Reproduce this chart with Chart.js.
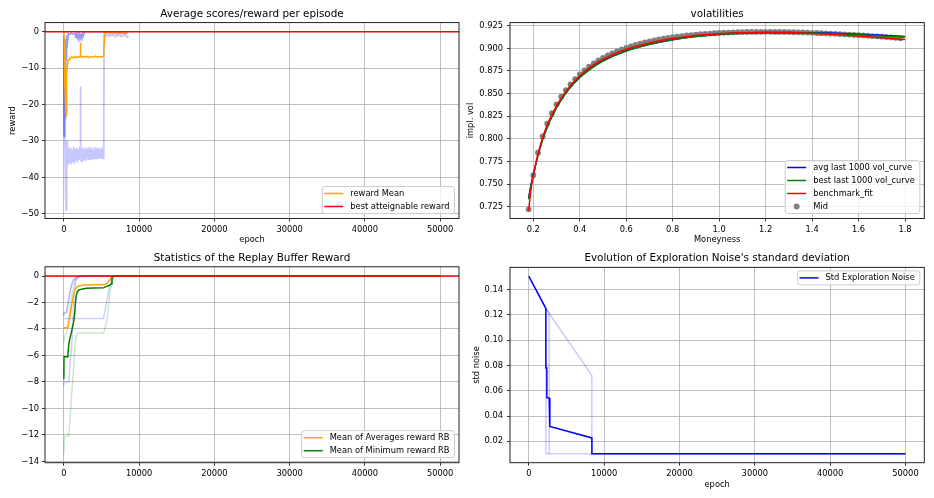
<!DOCTYPE html>
<html>
<head>
<meta charset="utf-8">
<script src="https://cdn.jsdelivr.net/npm/chart.js@4.4.0/dist/chart.umd.min.js"></script>
<style>
body { margin: 0; background: #fff; width: 934px; height: 498px; overflow: hidden; position: relative; }
.panel { position: absolute; }
</style>
</head>
<body>
<div class="panel" style="left:0;top:0;width:467px;height:249px"><canvas id="rewardChart"></canvas></div>
<div class="panel" style="left:464px;top:0;width:470px;height:249px"><canvas id="volChart"></canvas></div>
<div class="panel" style="left:0;top:249px;width:467px;height:249px"><canvas id="bufferChart"></canvas></div>
<div class="panel" style="left:464px;top:249px;width:470px;height:249px"><canvas id="noiseChart"></canvas></div>
<script>
// ---- tick labels ----
const epochTicks = [0, 10000, 20000, 30000, 40000, 50000];
const rewardTicks = [0, -10, -20, -30, -40, -50];
const moneyTicks = [0.2, 0.4, 0.6, 0.8, 1.0, 1.2, 1.4, 1.6, 1.8];
const volTicks = [0.725, 0.75, 0.775, 0.8, 0.825, 0.85, 0.875, 0.9, 0.925];
const bufferTicks = [0, -2, -4, -6, -8, -10, -12, -14];
const noiseTicks = [0.02, 0.04, 0.06, 0.08, 0.1, 0.12, 0.14];

// ---- average scores / reward per episode ----
const tlMeanX = [0, 50, 100, 150, 200, 250, 300, 350, 400, 500, 600, 700, 800, 1000, 1200, 1400, 1600, 1800, 2000, 2150, 2200, 2250, 2400, 2600, 2800, 3000, 3300, 3600, 3900, 4200, 4500, 4800, 5100, 5300, 5350, 5400, 5600, 6000, 6500, 7000, 7500, 8000, 8500];
const tlMeanY = [0, -3, -9, -14, -18, -21, -23, -16, -11, -9, -8, -7.6, -7.3, -7.0, -7.2, -6.8, -7.1, -6.9, -7.0, -6.7, -3, -6.6, -7.1, -6.8, -7.0, -6.7, -7.1, -6.8, -7.0, -6.7, -7.0, -6.8, -6.9, -6.8, -3, -0.2, -0.1, -0.3, -0.2, -0.4, -0.3, -0.5, -0.4];
const tlLowX = [0, 60, 120, 180, 240, 300, 340, 380, 420,
  500, 600, 700, 800, 900, 1000, 1100, 1200, 1300, 1400, 1500, 1600, 1700, 1800, 1900, 2000, 2100,
  2150, 2200, 2250,
  2300, 2400, 2500, 2600, 2700, 2800, 2900, 3000, 3100, 3200, 3300, 3400, 3500, 3600, 3700, 3800, 3900, 4000, 4100, 4200, 4300, 4400, 4500, 4600, 4700, 4800, 4900, 5000, 5100, 5200, 5300,
  5350, 5450,
  5600, 5800, 6000, 6200, 6400, 6600, 6800, 7000, 7200, 7400, 7600, 7800, 8000, 8200, 8400, 8500];
const tlLowY = [-1, -18, -29, -35, -44, -49, -38, -30, -33,
  -31.5, -36.5, -32, -36, -31.8, -36.4, -32.5, -35.8, -31.6, -36.2, -32.2, -35.5, -31.9, -35.9, -32.4, -35.2, -31.7,
  -33, -15, -33,
  -35.6, -32, -35.4, -31.8, -35.1, -32.3, -35.5, -31.9, -34.8, -32.1, -35.3, -31.6, -34.9, -32.2, -35.2, -31.8, -34.7, -32.4, -35.0, -31.7, -34.8, -32.0, -35.1, -31.9, -34.6, -32.3, -34.9, -31.8, -34.7, -32.1, -35.0,
  -1, -0.6,
  -1.2, -0.5, -1.3, -0.7, -1.1, -0.6, -1.4, -0.8, -1.2, -0.5, -1.3, -0.9, -1.1, -0.7, -1.5, -1.2];
const tlHighX = [0, 30, 60, 90, 120, 150, 180, 210, 240, 270, 300, 350, 400, 500, 600, 800, 1000, 1200, 1400, 1500, 1600, 1700, 1800, 1900, 2000, 2100, 2200, 2300, 2400, 2500, 2600, 2700, 2800, 8500];
const tlHighY = [-1, -28, -3, -29, -6, -27, -2, -24, -4, -18, -2, -8, -1, -3, -0.5, -0.8, -0.4, -0.7, -0.5, -0.5, -1.8, -0.6, -1.6, -0.7, -1.5, -0.6, -1.7, -0.8, -1.4, -0.6, -1.2, -0.3, 0, 0];
const bestX = [-2500, 52500];
const bestY = [0, 0];

// ---- volatilities ----
const fitX = [0.18, 0.19, 0.20, 0.22, 0.25, 0.30, 0.35, 0.40, 0.45, 0.50, 0.60, 0.70, 0.80, 0.90, 1.00, 1.10, 1.20, 1.30, 1.40, 1.50, 1.60, 1.70, 1.80];
const avgVol = [0.7345, 0.7490, 0.7605, 0.7818, 0.8068, 0.8348, 0.8542, 0.8680, 0.8782, 0.8862, 0.8972, 0.9044, 0.9096, 0.9133, 0.9157, 0.9170, 0.9175, 0.9176, 0.9173, 0.9166, 0.9156, 0.9144, 0.9132];
const bestVol = [0.7330, 0.7480, 0.7600, 0.7815, 0.8065, 0.8345, 0.8540, 0.8678, 0.8780, 0.8860, 0.8970, 0.9042, 0.9094, 0.9131, 0.9155, 0.9168, 0.9173, 0.9173, 0.9169, 0.9161, 0.9150, 0.9138, 0.9126];
const benchVol = [0.7210, 0.7440, 0.7590, 0.7830, 0.8090, 0.8365, 0.8558, 0.8697, 0.8800, 0.8880, 0.8990, 0.9060, 0.9108, 0.9142, 0.9162, 0.9172, 0.9175, 0.9172, 0.9165, 0.9153, 0.9137, 0.9118, 0.9098];
const midX = [0.18, 0.20, 0.22, 0.24, 0.26, 0.28, 0.30, 0.32, 0.34, 0.36, 0.38, 0.40, 0.42, 0.44, 0.46, 0.48, 0.50, 0.52, 0.54, 0.56, 0.58,
  0.60, 0.62, 0.64, 0.66, 0.68, 0.70, 0.72, 0.74, 0.76, 0.78, 0.80, 0.82, 0.84, 0.86, 0.88, 0.90, 0.92, 0.94, 0.96, 0.98,
  1.00, 1.02, 1.04, 1.06, 1.08, 1.10, 1.12, 1.14, 1.16, 1.18, 1.20, 1.22, 1.24, 1.26, 1.28, 1.30, 1.32, 1.34, 1.36, 1.38,
  1.40, 1.42, 1.44, 1.46, 1.48, 1.50, 1.52, 1.54, 1.56, 1.58, 1.60, 1.62, 1.64, 1.66, 1.68, 1.70, 1.72, 1.74, 1.76, 1.78];
const midVol = [0.7221, 0.7598, 0.7847, 0.8027, 0.8169, 0.8283, 0.8382, 0.8466, 0.8539, 0.8603, 0.8660, 0.8712, 0.8757, 0.8798, 0.8834, 0.8866, 0.8895, 0.8921, 0.8945, 0.8966, 0.8986,
  0.9005, 0.9022, 0.9038, 0.9052, 0.9065, 0.9077, 0.9088, 0.9098, 0.9107, 0.9115, 0.9123, 0.9130, 0.9136, 0.9142, 0.9147, 0.9152, 0.9156, 0.9160, 0.9164, 0.9167,
  0.9170, 0.9173, 0.9175, 0.9177, 0.9179, 0.9180, 0.9181, 0.9182, 0.9182, 0.9183, 0.9183, 0.9183, 0.9182, 0.9182, 0.9181, 0.9180, 0.9179, 0.9177, 0.9176, 0.9174,
  0.9172, 0.9170, 0.9168, 0.9166, 0.9163, 0.9161, 0.9158, 0.9155, 0.9152, 0.9149, 0.9146, 0.9143, 0.9140, 0.9136, 0.9133, 0.9129, 0.9125, 0.9121, 0.9117, 0.9112];

// ---- replay buffer reward ----
const rbAvgX = [0, 100, 500, 700, 900, 1100, 1300, 1500, 1700, 2000, 2500, 3000, 4000, 5000, 5500, 5800, 6100, 6400, 7000, 50000];
const rbAvgY = [-4.0, -3.9, -3.9, -3.4, -2.7, -2.0, -1.4, -1.0, -0.85, -0.75, -0.7, -0.67, -0.65, -0.65, -0.64, -0.5, -0.3, -0.02, 0, 0];
const rbMinX = [0, 30, 450, 550, 700, 900, 1100, 1300, 1450, 1550, 1650, 1800, 2000, 2500, 3000, 4000, 5300, 5600, 6000, 6300, 6400, 6600, 50000];
const rbMinY = [-7.8, -6.1, -6.1, -5.8, -5.0, -4.5, -4.0, -3.5, -2.8, -2.0, -1.5, -1.2, -1.05, -0.97, -0.92, -0.9, -0.88, -0.8, -0.72, -0.6, -0.15, 0, 0];
const rbAvgHiX = [0, 50, 350, 500, 700, 900, 1100, 1300, 1600, 2200, 50000];
const rbAvgHiY = [-3.0, -2.8, -2.75, -2.3, -1.6, -1.0, -0.55, -0.3, -0.1, 0, 0];
const rbAvgMidX = [0, 5300, 5500, 6000, 6400, 50000];
const rbAvgMidY = [-3.2, -3.2, -2.5, -1.0, 0, 0];
const rbAvgLoX = [0, 50, 650, 1100, 1300, 1550, 2000, 50000];
const rbAvgLoY = [-8.3, -8.0, -8.0, -4.8, -2.3, -0.3, 0, 0];
const rbMinLoX = [0, 100, 660, 1550, 1800, 5300, 5750, 6200, 6600, 50000];
const rbMinLoY = [-13.5, -12.1, -12.1, -4.8, -4.3, -4.3, -3.3, -1.0, 0, 0];
const rbMinHiX = [0, 100, 400, 800, 1200, 1600, 2200, 2800, 50000];
const rbMinHiY = [-5.0, -4.5, -4.3, -2.5, -1.0, -0.3, -0.05, 0, 0];

// ---- exploration noise ----
const noiseX = [0, 2260, 2260, 2390, 2390, 2700, 2790, 8370, 8370, 50000];
const noiseY = [0.1505, 0.125, 0.078, 0.078, 0.0546, 0.0542, 0.0318, 0.0227, 0.0101, 0.0101];
const noiseHiX = [0, 2260, 8370, 8370, 50000];
const noiseHiY = [0.1505, 0.125, 0.072, 0.0101, 0.0101];
const noiseLoX = [0, 2260, 2270, 50000];
const noiseLoY = [0.1505, 0.125, 0.0101, 0.0101];
const noiseMidX = [2260, 2700, 2710];
const noiseMidY = [0.125, 0.1213, 0.0101];

const FS = 8.3;
Chart.defaults.font.family = '"DejaVu Sans", sans-serif';
Chart.defaults.color = '#000';

const minus = v => String(v).replace('-', '\u2212');

function pts(xs, ys) {
  return xs.map((x, i) => ({ x: x, y: ys[i] }));
}

function line(label, xs, ys, color, order, extra) {
  return Object.assign({
    label: label, data: pts(xs, ys), borderColor: color, backgroundColor: color,
    borderWidth: 1.5, pointRadius: 0, showLine: true, fill: false, order: order
  }, extra || {});
}

function axis(o) {
  return {
    type: 'linear', min: o.min, max: o.max,
    afterBuildTicks: s => { s.ticks = o.ticks.map(v => ({ value: v })); },
    afterFit: s => { if (s.isHorizontal()) s.height = o.size; else s.width = o.size; },
    ticks: { font: { size: FS }, padding: o.tickPad, maxRotation: 0, autoSkip: false, callback: v => o.fmt(v) },
    grid: { color: '#b0b0b0', lineWidth: 0.8, tickLength: 3, tickColor: '#000', tickWidth: 0.8 },
    border: { display: false },
    title: { display: !!o.title, text: o.title || '', font: { size: FS }, padding: o.titlePad || 0 }
  };
}

// black box round the plot area, like the axes spines
const frame = {
  id: 'frame',
  afterDatasetsDraw(chart) {
    const { ctx, chartArea: a } = chart;
    ctx.save();
    ctx.strokeStyle = '#222';
    ctx.lineWidth = 1;
    ctx.strokeRect(a.left, a.top, a.right - a.left, a.bottom - a.top);
    ctx.restore();
  }
};

// legend box drawn inside the plot area
const boxLegend = {
  id: 'boxLegend',
  afterDraw(chart, args, opts) {
    const items = chart.data.datasets.filter(d => d.label);
    if (!items.length) return;
    const { ctx, chartArea: a } = chart;
    ctx.save();
    ctx.font = FS + 'px "DejaVu Sans"';
    const textW = Math.max(...items.map(d => ctx.measureText(d.label).width));
    const w = 28 + textW + 5;
    const h = items.length * 13 + 1;
    const x = a.right - 4.5 - w;
    const y = opts.upper ? a.top + 3.5 : a.bottom - 5 - h;
    ctx.beginPath();
    if (ctx.roundRect) ctx.roundRect(x, y, w, h, 2.5); else ctx.rect(x, y, w, h);
    ctx.fillStyle = 'rgba(255,255,255,0.8)';
    ctx.fill();
    ctx.strokeStyle = '#cccccc';
    ctx.lineWidth = 1;
    ctx.stroke();
    items.forEach((d, i) => {
      const cy = y + 7 + i * 13;
      if (d.showLine === false) {
        ctx.beginPath();
        ctx.arc(x + 11.5, cy, d.pointRadius, 0, Math.PI * 2);
        ctx.fillStyle = d.backgroundColor;
        ctx.fill();
      } else {
        ctx.beginPath();
        ctx.moveTo(x + 2, cy);
        ctx.lineTo(x + 21, cy);
        ctx.strokeStyle = d.borderColor;
        ctx.lineWidth = d.borderWidth;
        ctx.stroke();
      }
      ctx.fillStyle = '#000';
      ctx.textBaseline = 'middle';
      ctx.fillText(d.label, x + 28, cy);
    });
    ctx.restore();
  }
};

Chart.register(frame, boxLegend);

function options(c) {
  return {
    responsive: true, maintainAspectRatio: false, animation: false, devicePixelRatio: 1, events: [],
    layout: { padding: { left: 0, right: c.padRight, top: 0, bottom: 0 } },
    plugins: {
      legend: { display: false },
      tooltip: { enabled: false },
      title: { display: true, text: c.title, fullSize: false, font: { size: 10.4, weight: 'normal' }, color: '#000', padding: c.titlePad },
      boxLegend: { upper: !!c.legendUpper }
    },
    scales: { x: c.x, y: c.y }
  };
}

const faintBlue = 'rgba(0,0,255,0.2)';
const faintGreen = 'rgba(0,128,0,0.2)';

new Chart(document.getElementById('rewardChart'), {
  type: 'scatter',
  data: {
    datasets: [
      line('reward Mean', tlMeanX, tlMeanY, '#ffa500', 2),
      line('best atteignable reward', bestX, bestY, '#ff0000', 1),
      line(null, tlHighX, tlHighY, 'rgba(0,0,255,0.4)', 3),
      line(null, tlLowX, tlLowY, 'rgba(0,0,255,0.22)', 4, { borderWidth: 1.8 })
    ]
  },
  options: options({
    title: 'Average scores/reward per episode', padRight: 8, titlePad: { top: 8.5, bottom: 1.6 },
    x: axis({ min: -2500, max: 52500, ticks: epochTicks, fmt: minus, size: 30.5, tickPad: 3, title: 'epoch', titlePad: { top: 0, bottom: 4 } }),
    y: axis({ min: -51.3, max: 2.5, ticks: rewardTicks, fmt: minus, size: 45, tickPad: 3, title: 'reward', titlePad: { top: 8.3, bottom: 0 } })
  })
});

new Chart(document.getElementById('volChart'), {
  type: 'scatter',
  data: {
    datasets: [
      line('avg last 1000 vol_curve', fitX, avgVol, '#0000ff', 3, { cubicInterpolationMode: 'monotone' }),
      line('best last 1000 vol_curve', fitX, bestVol, '#008000', 2, { cubicInterpolationMode: 'monotone' }),
      line('benchmark_fit', fitX, benchVol, '#ff0000', 1, { cubicInterpolationMode: 'monotone' }),
      line('Mid', midX, midVol, '#808080', 4, { showLine: false, pointRadius: 2.9, pointBorderWidth: 0 })
    ]
  },
  options: options({
    title: 'volatilities', padRight: 9.7, titlePad: { top: 8.5, bottom: 1.6 },
    x: axis({ min: 0.0997, max: 1.883, ticks: moneyTicks, fmt: v => v.toFixed(1), size: 30.5, tickPad: 3, title: 'Moneyness', titlePad: { top: 0, bottom: 4 } }),
    y: axis({ min: 0.712, max: 0.9285, ticks: volTicks, fmt: v => v.toFixed(3), size: 46, tickPad: 4, title: 'impl. vol', titlePad: { top: 1.7, bottom: 0 } })
  })
});

new Chart(document.getElementById('bufferChart'), {
  type: 'scatter',
  data: {
    datasets: [
      line('Mean of Averages reward RB', rbAvgX, rbAvgY, '#ffa500', 3),
      line('Mean of Minimum reward RB', rbMinX, rbMinY, '#008000', 2),
      line(null, bestX, bestY, '#ff0000', 1),
      line(null, rbAvgHiX, rbAvgHiY, 'rgba(0,0,255,0.3)', 4),
      line(null, rbAvgMidX, rbAvgMidY, faintBlue, 4),
      line(null, rbAvgLoX, rbAvgLoY, faintBlue, 4),
      line(null, rbMinHiX, rbMinHiY, faintGreen, 4),
      line(null, rbMinLoX, rbMinLoY, faintGreen, 4)
    ]
  },
  options: options({
    title: 'Statistics of the Replay Buffer Reward', padRight: 8, titlePad: { top: 2.8, bottom: 2.5 },
    x: axis({ min: -2500, max: 52500, ticks: epochTicks, fmt: minus, size: 35.3, tickPad: 3.3 }),
    y: axis({ min: -14.1, max: 0.7, ticks: bufferTicks, fmt: minus, size: 45, tickPad: 3 })
  })
});

new Chart(document.getElementById('noiseChart'), {
  type: 'scatter',
  data: {
    datasets: [
      line('Std Exploration Noise', noiseX, noiseY, '#0000ff', 1),
      line(null, noiseHiX, noiseHiY, faintBlue, 2),
      line(null, noiseLoX, noiseLoY, faintBlue, 2),
      line(null, noiseMidX, noiseMidY, faintBlue, 2)
    ]
  },
  options: options({
    title: "Evolution of Exploration Noise's standard deviation", padRight: 9.7, titlePad: { top: 2.8, bottom: 3.1 }, legendUpper: true,
    x: axis({ min: -2500, max: 52500, ticks: epochTicks, fmt: minus, size: 35.3, tickPad: 3.3, title: 'epoch', titlePad: { top: 0, bottom: 8 } }),
    y: axis({ min: 0.0031, max: 0.1575, ticks: noiseTicks, fmt: v => v.toFixed(2), size: 46, tickPad: 4, title: 'std noise', titlePad: { top: 8.3, bottom: 0 } })
  })
});
</script>
</body>
</html>
